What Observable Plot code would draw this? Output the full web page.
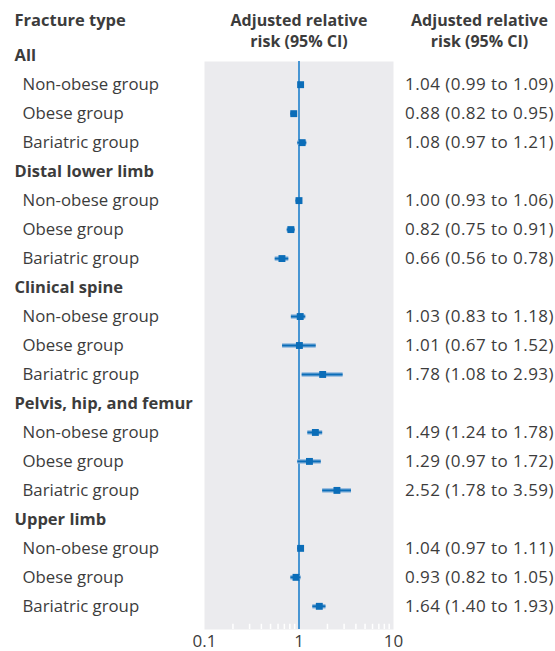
<!DOCTYPE html>
<html>
<head>
<meta charset="utf-8">
<script src="https://cdn.jsdelivr.net/npm/d3@7"></script>
<script src="https://cdn.jsdelivr.net/npm/@observablehq/plot@0.6"></script>
<style>
  html, body { margin: 0; padding: 0; background: #fff; }
  #chart svg { display: block; }
  .vals text { letter-spacing: 0.45px; }
</style>
</head>
<body>
<div id="chart"></div>
<script>
const groups = ["All", "Distal lower limb", "Clinical spine", "Pelvis, hip, and femur", "Upper limb"];
const subgroups = ["Non-obese group", "Obese group", "Bariatric group"];
const rr = [1.04, 0.88, 1.08, 1.00, 0.82, 0.66, 1.03, 1.01, 1.78, 1.49, 1.29, 2.52, 1.04, 0.93, 1.64];
const lo = [0.99, 0.82, 0.97, 0.93, 0.75, 0.56, 0.83, 0.67, 1.08, 1.24, 0.97, 1.78, 0.97, 0.82, 1.40];
const hi = [1.09, 0.95, 1.21, 1.06, 0.91, 0.78, 1.18, 1.52, 2.93, 1.78, 1.72, 3.59, 1.11, 1.05, 1.93];
const headerLeft = "Fracture type";
const headerMid = ["Adjusted relative", "risk (95% CI)"];
const headerRight = ["Adjusted relative", "risk (95% CI)"];
const axisTicks = [0.1, 1, 10];
const minorTicks = [0.2, 0.3, 0.4, 0.5, 0.6, 0.7, 0.8, 0.9, 2, 3, 4, 5, 6, 7, 8, 9];

const fmt = v => v.toFixed(2);
const groupRows = groups.map((g, i) => ({label: g, row: i * 4}));
const data = [];
groups.forEach((g, gi) => {
  subgroups.forEach((s, si) => {
    const k = gi * 3 + si;
    data.push({group: g, label: s, row: gi * 4 + si + 1, rr: rr[k], lo: lo[k], hi: hi[k],
      text: `${fmt(rr[k])} (${fmt(lo[k])} to ${fmt(hi[k])})`});
  });
});

const textColor = "#3c3c3c";
const blue = "#0b6db8";
const font = "Open Sans, Noto Sans, sans-serif";

const chart = Plot.plot({
  width: 555,
  height: 651,
  marginLeft: 204,
  marginRight: 162,
  marginTop: 61,
  marginBottom: 22,
  style: {fontFamily: font, fontSize: "16px", color: textColor, background: "#fff"},
  x: {type: "log", domain: [0.1, 10], axis: null},
  y: {domain: [0.2, 19.8], reverse: true, axis: null},
  marks: [
    Plot.frame({fill: "#ebebee", stroke: null}),
    Plot.ruleX(minorTicks, {x: d => d, y1: 19.62, y2: 19.8, stroke: "#fff", strokeWidth: 1.5}),
    Plot.ruleX([1], {stroke: "#1f80cc", strokeWidth: 1.6}),
    Plot.ruleY(data, {y: "row", x1: "lo", x2: "hi", stroke: "#8db6dc", strokeWidth: 4.5}),
    Plot.ruleY(data, {y: "row", x1: "lo", x2: "hi", stroke: blue, strokeWidth: 2}),
    Plot.dot(data, {x: "rr", y: "row", symbol: "square", r: 3.9, fill: blue, stroke: null}),
    Plot.axisX({ticks: axisTicks, tickSize: 0, tickPadding: 5, tickFormat: d => String(d), fontSize: 17, fill: textColor}),
    // left labels
    Plot.text(groupRows, {y: "row", text: "label", frameAnchor: "left", dx: -190, textAnchor: "start", fontWeight: "bold", fontSize: 16.5, fill: textColor}),
    Plot.text(data, {y: "row", text: "label", frameAnchor: "left", dx: -182, textAnchor: "start", fontSize: 16.8, fill: textColor}),
    // right values
    Plot.text(data, {y: "row", text: "text", frameAnchor: "right", dx: 86, textAnchor: "middle", fontSize: 17, fill: textColor, className: "vals"}),
    // headers
    Plot.text([headerLeft], {y: -1.21, text: d => d, frameAnchor: "left", dx: -190, textAnchor: "start", fontWeight: "bold", fontSize: 16.5, fill: textColor}),
    Plot.text(headerMid, {y: (d, i) => -1.21 + i * 0.72, x: 1, text: d => d, textAnchor: "middle", fontWeight: "bold", fill: textColor}),
    Plot.text(headerRight, {y: (d, i) => -1.21 + i * 0.72, text: d => d, frameAnchor: "right", dx: 86, textAnchor: "middle", fontWeight: "bold", fill: textColor})
  ]
});
document.getElementById("chart").appendChild(chart);
</script>
</body>
</html>
